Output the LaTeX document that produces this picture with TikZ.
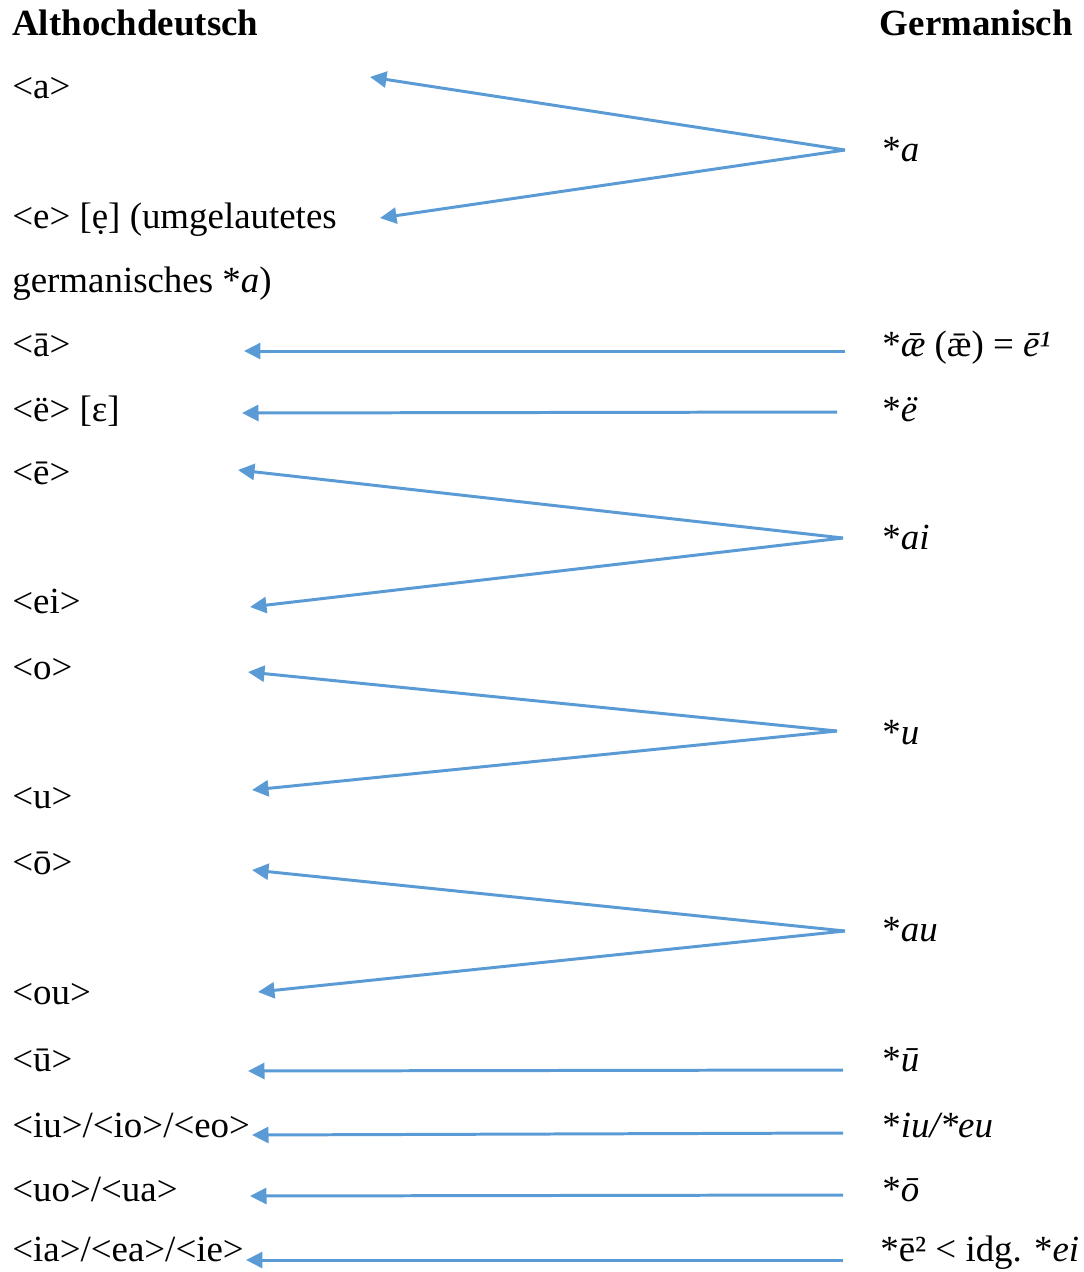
\documentclass[tikz,border=0pt]{standalone}
\usepackage{fontspec}
\setmainfont{Liberation Serif}
\usepackage{xcolor}
\usetikzlibrary{arrows.meta}

\definecolor{pfeilblau}{RGB}{91,155,213}

\begin{document}
\begin{tikzpicture}[
    x=0.02cm, y=-0.02cm,
    >={Triangle[length=0.33cm, width=0.32cm]},
    laut/.style={anchor=base west, inner sep=0pt, font=\fontsize{21}{25}\selectfont},
    pfeil/.style={->, draw=pfeilblau, line width=1.7pt}
]

    \useasboundingbox (0,0) rectangle (1084,1272);

    % 1. Überschriften
    \node[laut, font=\fontsize{21}{25}\selectfont\bfseries] (ahd) at (12,35) {Althochdeutsch};
    \node[laut, anchor=base east, font=\fontsize{21}{25}\selectfont\bfseries] (germ) at (1073,35) {Germanisch};

    % 2. Althochdeutsche Laute (links)
    \node[laut] (ahd-a)  at (12,98)   {<a>};
    \node[laut] (ahd-e)  at (12,228)  {<e> [ẹ] (umgelautetes};
    \node[laut] (ahd-e2) at (12,292)  {germanisches *\textit{a})};
    \node[laut] (ahd-aa) at (12,356)  {<ā>};
    \node[laut] (ahd-ee) at (12,421)  {<ë> [ε]};
    \node[laut] (ahd-eh) at (12,484)  {<ē>};
    \node[laut] (ahd-ei) at (12,613)  {<ei>};
    \node[laut] (ahd-o)  at (12,679)  {<o>};
    \node[laut] (ahd-u)  at (12,808)  {<u>};
    \node[laut] (ahd-oo) at (12,874)  {<ō>};
    \node[laut] (ahd-ou) at (12,1004) {<ou>};
    \node[laut] (ahd-uu) at (12,1071) {<ū>};
    \node[laut] (ahd-iu) at (12,1137) {<iu>/<io>/<eo>};
    \node[laut] (ahd-uo) at (12,1201) {<uo>/<ua>};
    \node[laut] (ahd-ia) at (12,1261) {<ia>/<ea>/<ie>};

    % 3. Germanische Laute (rechts)
    \node[laut] (g-a)  at (882,161)  {*\textit{a}};
    \node[laut] (g-ae) at (882,356)  {*\textit{ǣ} (ǣ) = \textit{ē¹}};
    \node[laut] (g-e)  at (882,421)  {*\textit{ë}};
    \node[laut] (g-ai) at (882,549)  {*\textit{ai}};
    \node[laut] (g-u)  at (882,744)  {*\textit{u}};
    \node[laut] (g-au) at (882,941)  {*\textit{au}};
    \node[laut] (g-uu) at (882,1071) {*\textit{ū}};
    \node[laut] (g-iu) at (882,1137) {*\textit{iu/*eu}};
    \node[laut] (g-o)  at (882,1201) {*\textit{ō}};
    \node[laut] (g-ee) at (880,1261) {*ē² < idg. *\textit{ei}};

    % 4. Anfangspunkte der Pfeile
    \coordinate (s-a)  at (845,150);
    \coordinate (s-ae) at (845,351);
    \coordinate (s-e)  at (837,412);
    \coordinate (s-ai) at (843,538);
    \coordinate (s-u)  at (837,731);
    \coordinate (s-au) at (845,931);
    \coordinate (s-uu) at (843,1070);
    \coordinate (s-iu) at (843,1133);
    \coordinate (s-o)  at (843,1195);
    \coordinate (s-ee) at (843,1260);

    % 5. Pfeilspitzen
    \coordinate (t-a)  at (370,77);
    \coordinate (t-e)  at (380,218);
    \coordinate (t-aa) at (244,351);
    \coordinate (t-ee) at (242,413);
    \coordinate (t-eh) at (238,470);
    \coordinate (t-ei) at (250,607);
    \coordinate (t-o)  at (248,672);
    \coordinate (t-u)  at (252,790);
    \coordinate (t-oo) at (252,870);
    \coordinate (t-ou) at (258,992);
    \coordinate (t-uu) at (248,1071);
    \coordinate (t-iu) at (252,1135);
    \coordinate (t-uo) at (250,1196);
    \coordinate (t-ia) at (246,1260);

    % 6. Pfeile
    \draw[pfeil] (s-a) -- (t-a);
    \draw[pfeil] (s-a) -- (t-e);
    \draw[pfeil] (s-ae) -- (t-aa);
    \draw[pfeil] (s-e) -- (t-ee);
    \draw[pfeil] (s-ai) -- (t-eh);
    \draw[pfeil] (s-ai) -- (t-ei);
    \draw[pfeil] (s-u) -- (t-o);
    \draw[pfeil] (s-u) -- (t-u);
    \draw[pfeil] (s-au) -- (t-oo);
    \draw[pfeil] (s-au) -- (t-ou);
    \draw[pfeil] (s-uu) -- (t-uu);
    \draw[pfeil] (s-iu) -- (t-iu);
    \draw[pfeil] (s-o) -- (t-uo);
    \draw[pfeil] (s-ee) -- (t-ia);

\end{tikzpicture}
\end{document}
